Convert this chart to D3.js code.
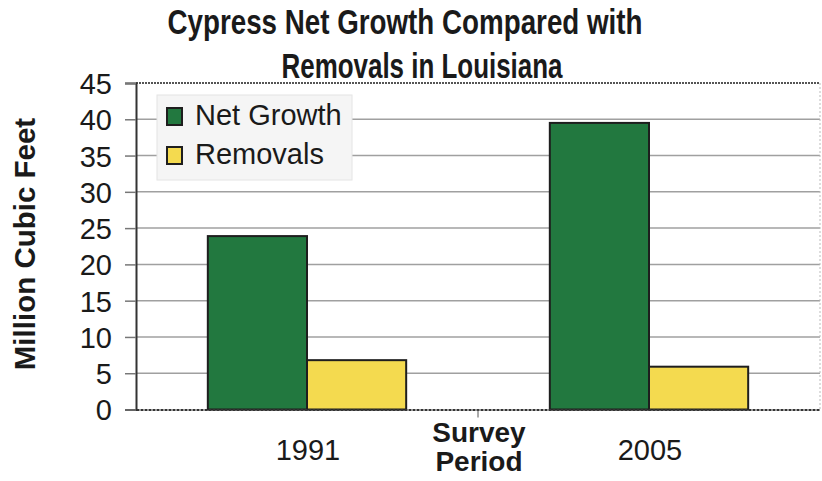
<!DOCTYPE html>
<html>
<head>
<meta charset="utf-8">
<script src="https://cdn.jsdelivr.net/npm/d3@7"></script>
<style>
    body { margin: 0; background: #fff; }
    text { font-family: "Liberation Sans", Arial, sans-serif; fill: #1a1a1a; }
</style>
</head>
<body>
<script>
let categories = ["1991", "2005"];
let seriesNames = ["Net Growth", "Removals"];
let netGrowth = [23.9, 39.5];
let removals = [6.8, 5.9];
let yTicks = [0, 5, 10, 15, 20, 25, 30, 35, 40, 45];
let titleLines = ["Cypress Net Growth Compared with", "Removals in Louisiana"];
let xTitleLines = ["Survey", "Period"];
let yTitle = "Million Cubic Feet";

let colors = ["#22783f", "#f4da4f"];

let svgContainer,
    svgWidth = 822,
    svgHeight = 481,
    plot = {
        left: 136,
        right: 820,
        top: 83,
        bottom: 409.5
    };

let xScale = d3.scaleBand().domain(categories).range([plot.left, plot.right]);
let seriesScale = d3.scaleBand().domain(seriesNames)
    .range([xScale.bandwidth() * 0.21, xScale.bandwidth() * 0.79]);
let yScale = d3.scaleLinear().domain([0, 45]).range([plot.bottom, plot.top]);

function init() {
    svgContainer = d3.select("body").append("svg")
        .attr("width", svgWidth)
        .attr("height", svgHeight);
    drawGrid();
    drawBars();
    drawAxes();
    drawLegend();
    drawTitles();
}

function drawGrid() {
    svgContainer.append("g")
        .selectAll("line")
        .data(yTicks.filter(t => t > 0 && t < 45))
        .join("line")
        .attr("x1", plot.left)
        .attr("x2", plot.right)
        .attr("y1", d => yScale(d))
        .attr("y2", d => yScale(d))
        .attr("stroke", "#a0a0a0")
        .attr("stroke-width", 1.5);

    // top and right edges of the plot area
    svgContainer.append("line")
        .attr("x1", plot.left).attr("x2", plot.right)
        .attr("y1", plot.top).attr("y2", plot.top)
        .attr("stroke", "#555").attr("stroke-width", 2)
        .attr("stroke-dasharray", "2,1");
    svgContainer.append("line")
        .attr("x1", plot.right).attr("x2", plot.right)
        .attr("y1", plot.top).attr("y2", plot.bottom)
        .attr("stroke", "#bbb").attr("stroke-width", 1)
        .attr("stroke-dasharray", "2,2");
}

function drawBars() {
    let rows = categories.map((c, i) => ({
        category: c,
        values: [
            {name: seriesNames[0], value: netGrowth[i]},
            {name: seriesNames[1], value: removals[i]}
        ]
    }));

    svgContainer.append("g")
        .selectAll("g")
        .data(rows)
        .join("g")
        .attr("transform", d => "translate(" + xScale(d.category) + ",0)")
        .selectAll("rect")
        .data(d => d.values)
        .join("rect")
        .attr("x", d => seriesScale(d.name))
        .attr("y", d => yScale(d.value))
        .attr("width", seriesScale.bandwidth())
        .attr("height", d => yScale(0) - yScale(d.value))
        .attr("fill", (d, i) => colors[i])
        .attr("stroke", "#1e1e1e")
        .attr("stroke-width", 2);
}

function drawAxes() {
    let yAxis = d3.axisLeft(yScale).tickValues(yTicks).tickSize(11).tickPadding(13);
    let gy = svgContainer.append("g")
        .attr("transform", "translate(" + plot.left + ",0)")
        .call(yAxis);
    gy.select(".domain").attr("stroke", "#333").attr("stroke-width", 2);
    gy.selectAll(".tick line").attr("stroke", "#777").attr("stroke-width", 1.5);
    gy.selectAll(".tick text")
        .attr("font-size", 29)
        .attr("dy", "0.36em")
        .style("font-family", "'Liberation Sans', Arial, sans-serif")
        .attr("fill", "#1a1a1a");

    let xAxis = d3.axisBottom(xScale).tickSize(0).tickPadding(0).tickFormat("");
    let gx = svgContainer.append("g")
        .attr("transform", "translate(0," + plot.bottom + ")")
        .call(xAxis);
    gx.select(".domain").attr("stroke", "#333").attr("stroke-width", 2)
        .attr("stroke-dasharray", "3,1");

    // separator tick between the two periods
    svgContainer.append("line")
        .attr("x1", xScale(categories[1])).attr("x2", xScale(categories[1]))
        .attr("y1", plot.bottom).attr("y2", plot.bottom + 8)
        .attr("stroke", "#555").attr("stroke-width", 1);

    svgContainer.append("g")
        .selectAll("text")
        .data(categories)
        .join("text")
        .attr("x", d => xScale(d) + xScale.bandwidth() / 2 + 1)
        .attr("y", 460)
        .attr("text-anchor", "middle")
        .attr("font-size", 29)
        .text(d => d);
}

function drawLegend() {
    let legend = svgContainer.append("g").attr("transform", "translate(157,95)");
    legend.append("rect")
        .attr("width", 195)
        .attr("height", 85)
        .attr("fill", "#f5f5f5")
        .attr("stroke", "#e4e4e4")
        .attr("stroke-width", 1);

    let items = legend.selectAll("g")
        .data(seriesNames)
        .join("g")
        .attr("transform", (d, i) => "translate(10," + (13 + i * 39) + ")");
    items.append("rect")
        .attr("width", 15)
        .attr("height", 17)
        .attr("fill", (d, i) => colors[i])
        .attr("stroke", "#1e1e1e")
        .attr("stroke-width", 2);
    items.append("text")
        .attr("x", 28)
        .attr("y", 17)
        .attr("font-size", 29)
        .text(d => d);
}

function drawTitles() {
    let titleX = [405, 422];
    let titleLen = [475, 281];
    svgContainer.append("g")
        .selectAll("text")
        .data(titleLines)
        .join("text")
        .attr("x", (d, i) => titleX[i])
        .attr("y", (d, i) => 34 + i * 44)
        .attr("text-anchor", "middle")
        .attr("font-size", 35)
        .attr("font-weight", "bold")
        .attr("textLength", (d, i) => titleLen[i])
        .attr("lengthAdjust", "spacingAndGlyphs")
        .text(d => d);

    svgContainer.append("g")
        .selectAll("text")
        .data(xTitleLines)
        .join("text")
        .attr("x", 479)
        .attr("y", (d, i) => 442 + i * 29)
        .attr("text-anchor", "middle")
        .attr("font-size", 28)
        .attr("font-weight", "bold")
        .text(d => d);

    svgContainer.append("text")
        .attr("transform", "translate(35,244) rotate(-90)")
        .attr("text-anchor", "middle")
        .attr("font-size", 29.5)
        .attr("font-weight", "bold")
        .text(yTitle);
}

init();
</script>
</body>
</html>
